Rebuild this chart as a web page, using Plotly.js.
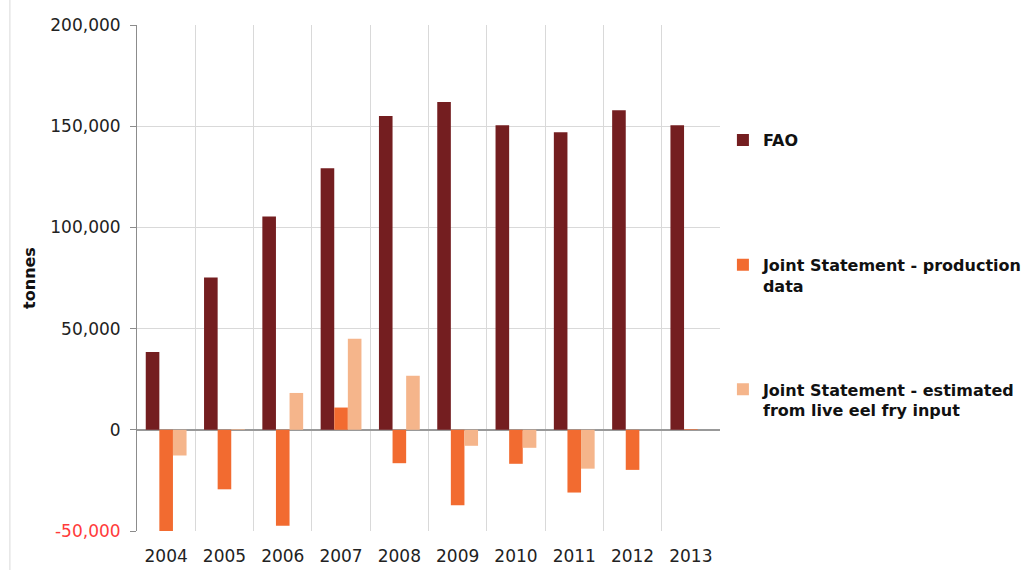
<!DOCTYPE html>
<html>
<head>
<meta charset="utf-8">
<script src="https://cdn.plot.ly/plotly-3.0.1.min.js"></script>
<style>html,body{margin:0;padding:0;background:#fff;}#chart{width:1026px;height:570px;}</style>
</head>
<body>
<div id="chart"></div>
<script>
var years = ['2004','2005','2006','2007','2008','2009','2010','2011','2012','2013'];
var faoValues = [38500, 75200, 105400, 129200, 155000, 161900, 150500, 147000, 157900, 150500];
var productionValues = [-51000, -29400, -47400, 11000, -16500, -37300, -16800, -31000, -19800, 300];
var estimatedValues = [-12700, 300, 18200, 45000, 26700, -7900, -8900, -19200, null, null];
var seriesNames = ['FAO<br> ', 'Joint Statement - production<br>data', 'Joint Statement - estimated<br>from live eel fry input'];
var tickValues = [-50000, 0, 50000, 100000, 150000, 200000];
var tickLabels = ['<span style="fill:#ff3b3b">-50,000</span>', '0', '50,000', '100,000', '150,000', '200,000'];

var font = 'DejaVu Sans, Liberation Sans, sans-serif';
var traces = [
  {type:'bar', x:years, y:faoValues, name:seriesNames[0], legendgroup:'a', marker:{color:'#741E20'}},
  {type:'bar', x:years, y:productionValues, name:seriesNames[1], legendgroup:'b', marker:{color:'#F26B30'}},
  {type:'bar', x:years, y:estimatedValues, name:seriesNames[2], legendgroup:'c', marker:{color:'#F5B58B'}}
];
var layout = {
  width:1026, height:570,
  margin:{l:137, r:306, t:25, b:39, autoexpand:false},
  paper_bgcolor:'#fff', plot_bgcolor:'#fff',
  barmode:'group', bargap:0.3, bargroupgap:0,
  font:{family:font, color:'#222', size:16},
  showlegend:true,
  legend:{x:1.005, xanchor:'left', y:0.806, yanchor:'top', tracegroupgap:80, valign:'top',
    font:{family:font, size:16, color:'#111', weight:'bold'}, itemwidth:30},
  xaxis:{type:'category', tickson:'boundaries', showgrid:true, gridcolor:'#d9d9d9', gridwidth:1,
    showline:false, ticks:'', tickfont:{size:17, color:'#222'}, zeroline:false, ticklabelstandoff:13},
  yaxis:{range:[-50000,200000], tickvals:tickValues, ticktext:tickLabels,
    showgrid:true, gridcolor:'#d9d9d9', showline:true, linecolor:'#8c8c8c', linewidth:1,
    ticks:'outside', ticklen:6, tickcolor:'#8c8c8c', zeroline:true, zerolinecolor:'#999', zerolinewidth:1.5,
    tickfont:{size:17, color:'#222'}, ticklabelstandoff:6,
    title:{text:'<b>tonnes</b>', font:{size:16, color:'#111'}, standoff:10}},
  shapes:[{type:'line', xref:'paper', yref:'paper', x0:-0.218, x1:-0.218, y0:-0.1, y1:1.06, line:{color:'#d9d9d9', width:1}}]
};
Plotly.newPlot('chart', traces, layout, {displayModeBar:false, staticPlot:true});
</script>
</body>
</html>
